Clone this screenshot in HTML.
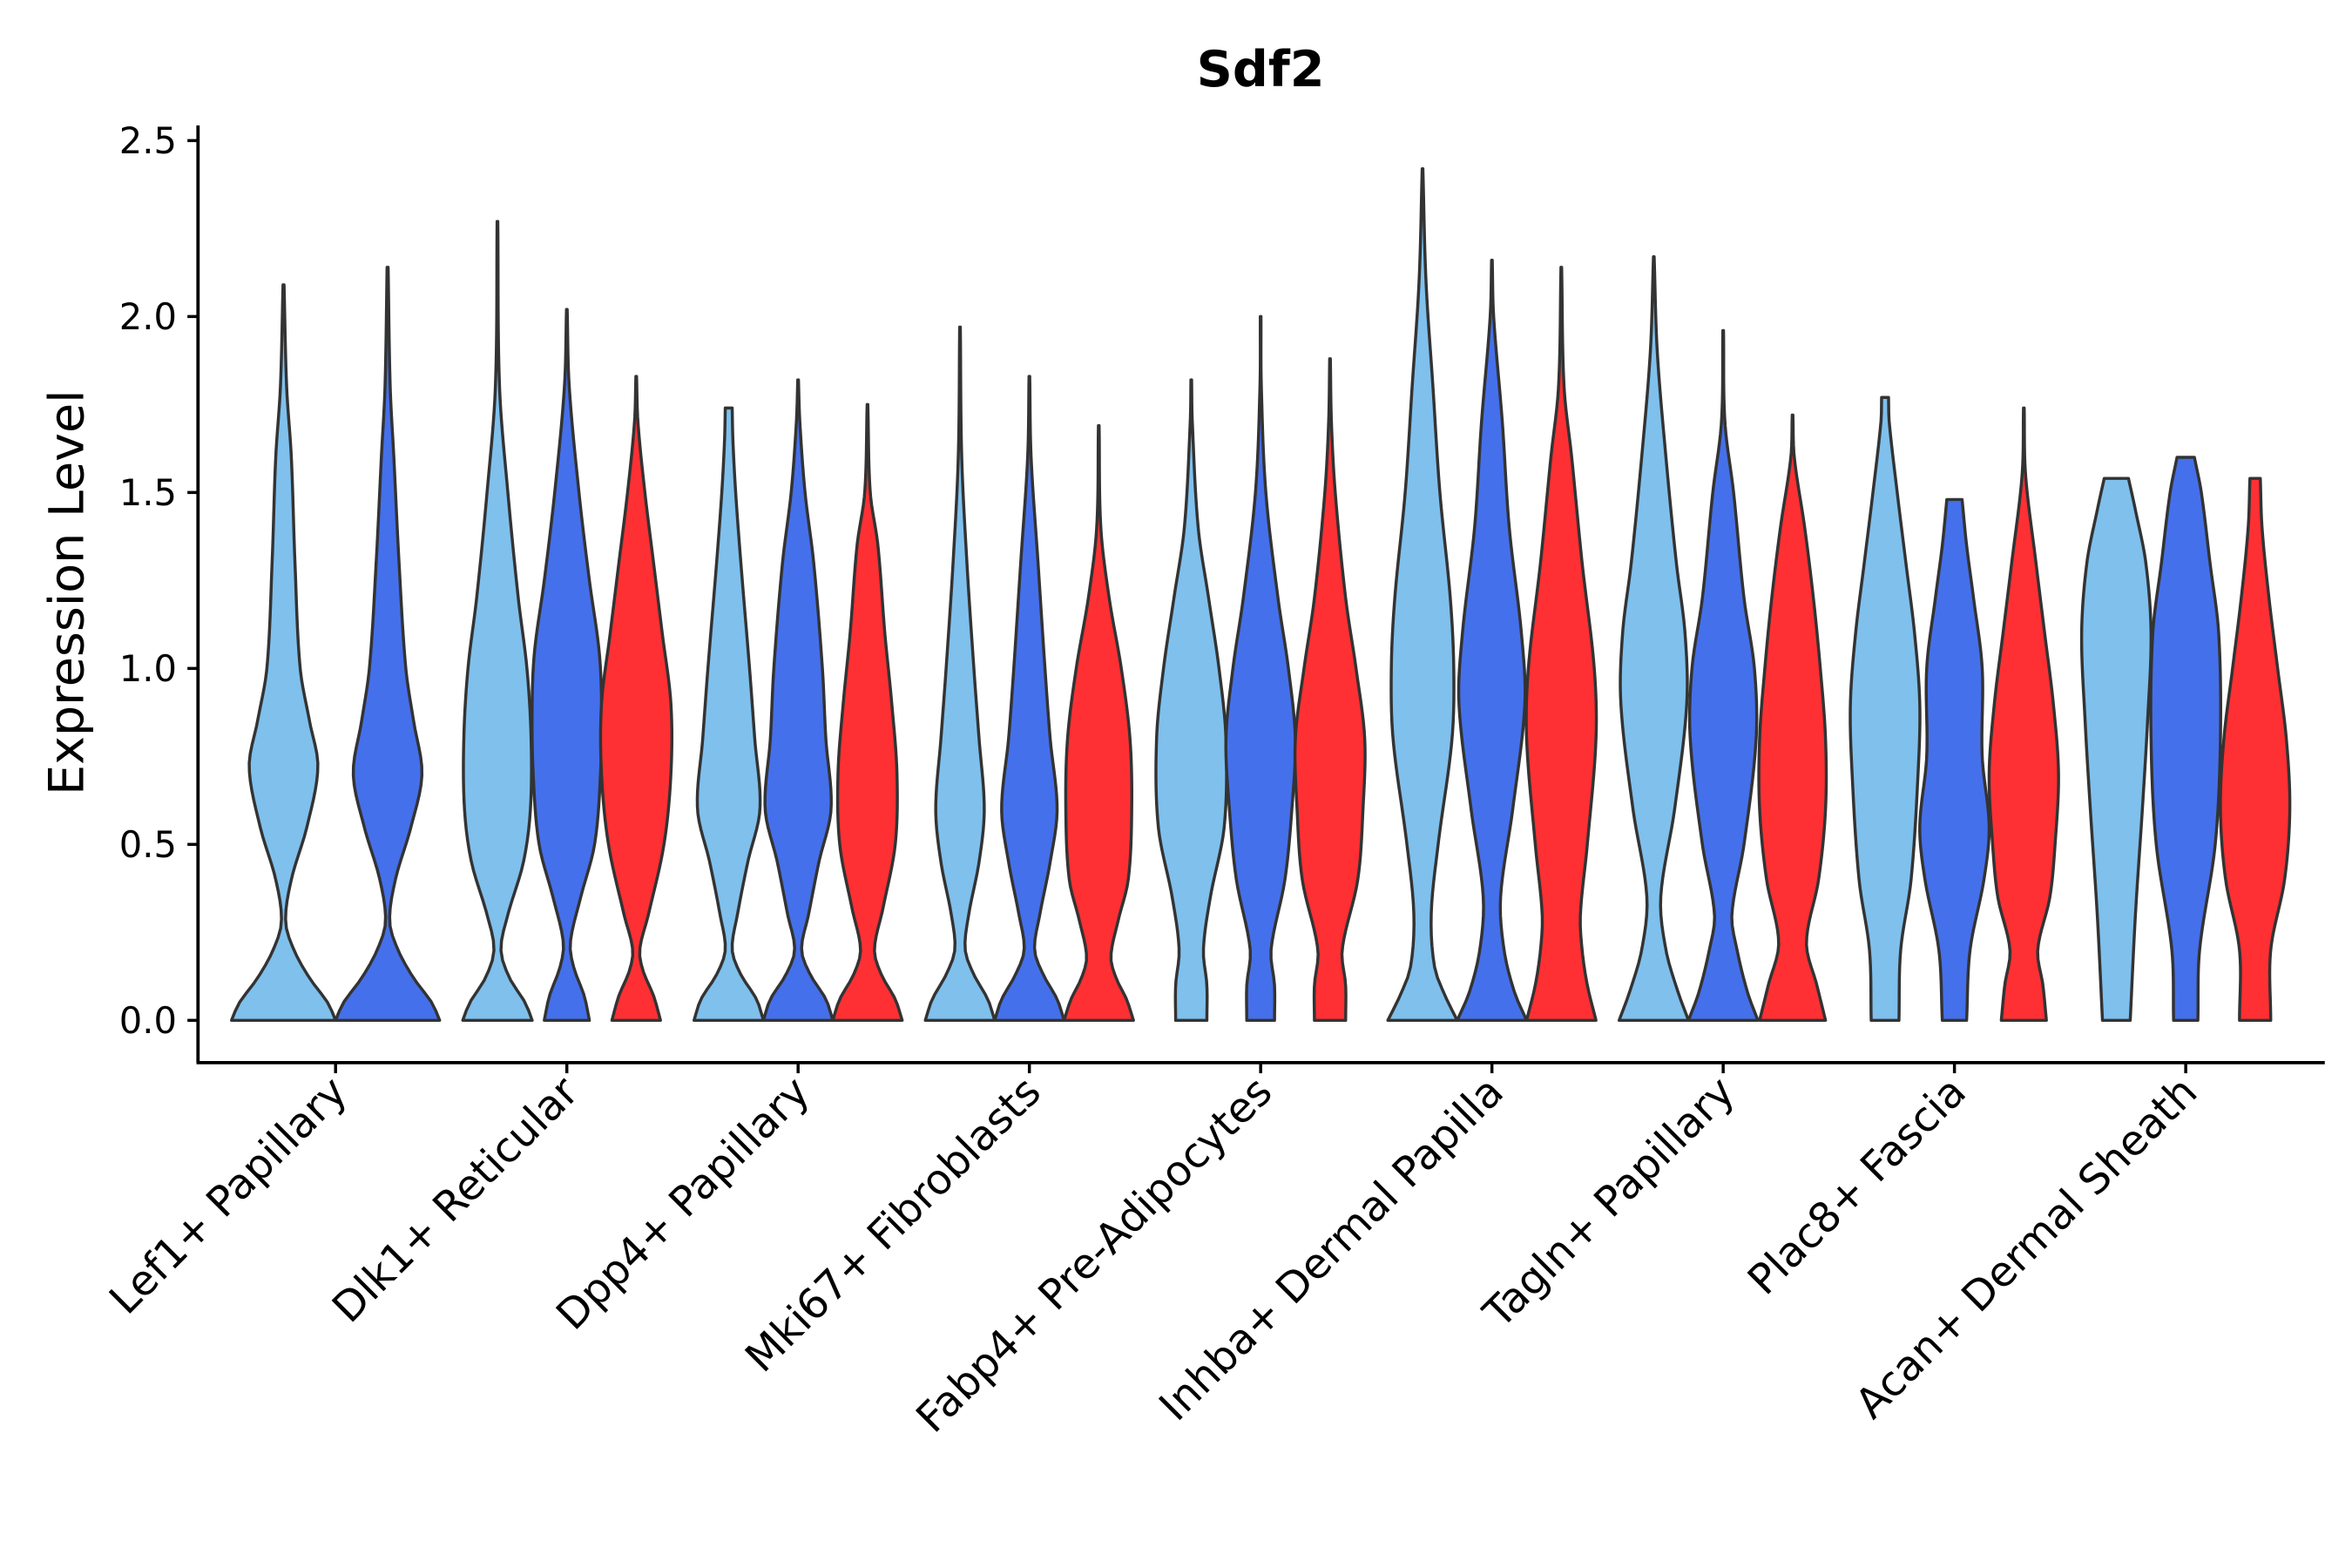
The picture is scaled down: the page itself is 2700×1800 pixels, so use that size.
<!DOCTYPE html>
<html><head><meta charset="utf-8"><style>
html,body{margin:0;padding:0;background:#fff;}
svg{display:block;font-family:"DejaVu Sans","Liberation Sans",sans-serif;}
</style></head><body>
<svg id="chart" width="2700" height="1800" viewBox="0 0 1556 1037.3" preserveAspectRatio="none" xmlns="http://www.w3.org/2000/svg">
<text x="834" y="57" text-anchor="middle" font-size="33" font-weight="bold" fill="#000">Sdf2</text>
<text transform="translate(55,392) rotate(-90)" text-anchor="middle" font-size="32" fill="#000">Expression Level</text>
<g id="plot"></g>
</svg>
<script>
const categories = ["Lef1+ Papillary","Dlk1+ Reticular","Dpp4+ Papillary","Mki67+ Fibroblasts","Fabp4+ Pre-Adipocytes","Inhba+ Dermal Papilla","Tagln+ Papillary","Plac8+ Fascia","Acan+ Dermal Sheath"];
const yTicks = [0, 0.5, 1.0, 1.5, 2.0, 2.5];
const yTickLabels = ["0.0","0.5","1.0","1.5","2.0","2.5"];
const seriesColors = ["#7fc0ed","#4570eb","#ff3033"];
// each violin: [value, relative half-width]
const lef1 = [
 [[0,1],[0.05,0.85],[0.12,0.5],[0.2,0.2],[0.28,0.04],[0.4,0.15],[0.55,0.45],[0.72,0.66],[0.85,0.5],[1.0,0.32],[1.3,0.22],[1.6,0.15],[1.8,0.06],[2.09,0.01]],
 [[0,1],[0.05,0.85],[0.12,0.5],[0.2,0.2],[0.28,0.04],[0.4,0.15],[0.55,0.45],[0.7,0.66],[0.85,0.5],[1.0,0.35],[1.3,0.22],[1.6,0.12],[1.8,0.05],[2.14,0.01]]
];
const dlk1 = [
 [[0,1],[0.05,0.8],[0.12,0.35],[0.2,0.1],[0.3,0.3],[0.45,0.75],[0.6,0.95],[0.8,0.97],[1.0,0.85],[1.2,0.6],[1.5,0.3],[1.8,0.06],[2.27,0.01]],
 [[0,0.65],[0.07,0.5],[0.15,0.2],[0.22,0.1],[0.35,0.4],[0.5,0.8],[0.7,0.97],[0.9,1.0],[1.05,0.93],[1.25,0.65],[1.5,0.35],[1.8,0.07],[2.02,0.01]],
 [[0,0.7],[0.07,0.5],[0.14,0.2],[0.2,0.1],[0.3,0.35],[0.5,0.8],[0.7,1.0],[0.9,1.0],[1.1,0.75],[1.3,0.5],[1.5,0.25],[1.7,0.05],[1.83,0.01]]
];
const dpp4 = [
 [[0,1],[0.06,0.8],[0.13,0.35],[0.2,0.1],[0.3,0.25],[0.45,0.55],[0.6,0.9],[0.8,0.75],[1.0,0.6],[1.3,0.35],[1.5,0.2],[1.65,0.12],[1.74,0.1]],
 [[0,1],[0.06,0.8],[0.13,0.35],[0.2,0.1],[0.3,0.3],[0.45,0.6],[0.6,0.95],[0.8,0.8],[1.0,0.7],[1.3,0.45],[1.5,0.2],[1.7,0.05],[1.82,0.01]],
 [[0,1],[0.06,0.8],[0.13,0.4],[0.2,0.2],[0.32,0.45],[0.5,0.8],[0.7,0.85],[0.9,0.7],[1.1,0.5],[1.35,0.3],[1.5,0.08],[1.75,0.01]]
];
const mki67 = [
 [[0,1],[0.06,0.8],[0.13,0.4],[0.2,0.15],[0.3,0.25],[0.45,0.55],[0.6,0.7],[0.8,0.55],[1.0,0.4],[1.3,0.2],[1.6,0.05],[1.97,0.01]],
 [[0,1],[0.06,0.8],[0.13,0.4],[0.2,0.15],[0.3,0.3],[0.45,0.6],[0.6,0.8],[0.8,0.6],[1.0,0.45],[1.3,0.25],[1.6,0.05],[1.83,0.01]],
 [[0,1],[0.06,0.8],[0.12,0.5],[0.18,0.35],[0.28,0.55],[0.4,0.85],[0.6,0.95],[0.8,0.9],[1.0,0.65],[1.2,0.3],[1.4,0.06],[1.69,0.01]]
];
const fabp4 = [
 [[0,0.45],[0.1,0.45],[0.2,0.35],[0.35,0.55],[0.55,0.95],[0.8,1.0],[1.0,0.8],[1.2,0.5],[1.4,0.2],[1.7,0.03],[1.82,0.01]],
 [[0,0.4],[0.1,0.4],[0.2,0.3],[0.4,0.7],[0.6,0.9],[0.8,1.0],[1.0,0.8],[1.2,0.5],[1.5,0.15],[1.8,0.02],[2.0,0.01]],
 [[0,0.45],[0.1,0.45],[0.2,0.35],[0.4,0.8],[0.6,0.95],[0.8,1.0],[1.0,0.75],[1.2,0.45],[1.5,0.15],[1.7,0.04],[1.88,0.01]]
];
const inhba = [
 [[0,1],[0.07,0.65],[0.15,0.35],[0.3,0.25],[0.5,0.45],[0.8,0.85],[1.0,0.9],[1.2,0.8],[1.5,0.5],[1.8,0.3],[2.1,0.1],[2.42,0.01]],
 [[0,1],[0.08,0.65],[0.2,0.35],[0.35,0.25],[0.6,0.6],[0.9,0.95],[1.1,0.85],[1.4,0.5],[1.7,0.3],[2.0,0.05],[2.16,0.01]],
 [[0,1],[0.1,0.75],[0.2,0.6],[0.3,0.55],[0.5,0.75],[0.8,1.0],[1.0,0.95],[1.3,0.6],[1.6,0.3],[1.8,0.08],[2.14,0.01]]
];
const tagln = [
 [[0,1],[0.08,0.7],[0.2,0.35],[0.35,0.2],[0.6,0.6],[0.9,0.95],[1.1,0.9],[1.3,0.65],[1.6,0.35],[1.9,0.1],[2.17,0.01]],
 [[0,1],[0.08,0.7],[0.2,0.4],[0.3,0.25],[0.5,0.6],[0.8,0.95],[1.0,0.9],[1.2,0.6],[1.5,0.3],[1.7,0.05],[1.96,0.01]],
 [[0,0.95],[0.1,0.7],[0.22,0.4],[0.4,0.75],[0.6,0.95],[0.8,0.95],[1.0,0.8],[1.2,0.6],[1.4,0.35],[1.6,0.05],[1.72,0.01]]
];
const plac8 = [
 [[0,0.4],[0.2,0.45],[0.4,0.75],[0.7,0.95],[0.9,1.0],[1.1,0.85],[1.3,0.6],[1.5,0.35],[1.7,0.12],[1.77,0.1]],
 [[0,0.35],[0.2,0.45],[0.4,0.85],[0.55,1.0],[0.75,0.8],[1.0,0.8],[1.2,0.55],[1.35,0.35],[1.48,0.22]],
 [[0,0.65],[0.1,0.55],[0.2,0.4],[0.35,0.75],[0.5,0.9],[0.7,1.0],[0.9,0.85],[1.1,0.6],[1.3,0.35],[1.55,0.05],[1.74,0.01]]
];
const acan = [
 [[0,0.4],[0.3,0.55],[0.6,0.75],[0.85,0.9],[1.1,1.0],[1.3,0.85],[1.45,0.55],[1.54,0.35]],
 [[0,0.35],[0.2,0.4],[0.5,0.85],[0.8,1.0],[1.1,0.95],[1.3,0.7],[1.5,0.45],[1.6,0.25]],
 [[0,0.45],[0.2,0.45],[0.4,0.85],[0.6,1.0],[0.8,0.9],[1.0,0.65],[1.2,0.4],[1.4,0.2],[1.54,0.15]]
];
const violinData = [lef1, dlk1, dpp4, mki67, fabp4, inhba, tagln, plac8, acan];

const NS = "http://www.w3.org/2000/svg";
const plot = document.getElementById("plot");
const X0 = 131, X1 = 1538, Y0 = 83, Y1 = 703;
const firstX = 222, bandW = 153;
function yScale(v){ return 675 - v * 232.8; }
function xScale(i){ return firstX + i * bandW; }

function interp(pts, v){
  let k = 0;
  while (k < pts.length - 2 && v > pts[k+1][0]) k++;
  const p0 = pts[Math.max(k-1,0)], p1 = pts[k], p2 = pts[k+1], p3 = pts[Math.min(k+2, pts.length-1)];
  const h = p2[0] - p1[0];
  const t = h > 0 ? (v - p1[0]) / h : 0;
  const m1 = (p2[1] - p0[1]) / ((p2[0] - p0[0]) || 1) * h;
  const m2 = (p3[1] - p1[1]) / ((p3[0] - p1[0]) || 1) * h;
  const t2 = t*t, t3 = t2*t;
  const w = (2*t3-3*t2+1)*p1[1] + (t3-2*t2+t)*m1 + (-2*t3+3*t2)*p2[1] + (t3-t2)*m2;
  return Math.max(w, 0.005);
}

function make(tag, attrs){ const el = document.createElementNS(NS, tag); for (const k in attrs) el.setAttribute(k, attrs[k]); return el; }

violinData.forEach((group, gi) => {
  const n = group.length;
  const sub = 0.9 / n * bandW;
  const maxHalf = sub / 2;
  group.forEach((pts, si) => {
    const cx = xScale(gi) + (si - (n - 1) / 2) * sub;
    const vmax = pts[pts.length - 1][0];
    const N = 80;
    const left = [], right = [];
    for (let j = 0; j <= N; j++) {
      const v = vmax * j / N;
      const w = interp(pts, v) * maxHalf;
      const y = yScale(v);
      left.push([cx - w, y]); right.push([cx + w, y]);
    }
    let d = "M" + left.map(p => p[0].toFixed(2) + "," + p[1].toFixed(2)).join("L");
    d += "L" + right.reverse().map(p => p[0].toFixed(2) + "," + p[1].toFixed(2)).join("L") + "Z";
    const path = make("path", {d: d, fill: seriesColors[si], stroke: "#333", "stroke-width": 2, "stroke-linejoin": "round"});
    
    
    plot.appendChild(path);
  });
});

const yAxis = make("line", {x1: X0, y1: Y0, x2: X0, y2: Y1, stroke: "#000", "stroke-width": 2.2});


plot.appendChild(yAxis);
const xAxis = make("line", {x1: X0 - 1, y1: Y1, x2: X1, y2: Y1, stroke: "#000", "stroke-width": 2.2});


plot.appendChild(xAxis);

yTicks.forEach((v, i) => {
  const y = yScale(v);
  const t = make("line", {x1: X0 - 7, y1: y, x2: X0, y2: y, stroke: "#000", "stroke-width": 2});
  
  
  plot.appendChild(t);
  const lab = make("text", {x: X0 - 14, y: y + 8.5, "text-anchor": "end", "font-size": 24, fill: "#000"});
  lab.textContent = yTickLabels[i];
  
  
  plot.appendChild(lab);
});

categories.forEach((c, i) => {
  const x = xScale(i);
  const t = make("line", {x1: x, y1: Y1, x2: x, y2: Y1 + 7, stroke: "#000", "stroke-width": 2});
  
  
  plot.appendChild(t);
  const lab = make("text", {transform: "translate(" + (x + 9) + "," + (Y1 + 21) + ") rotate(-45)", "text-anchor": "end", "font-size": 27.5, fill: "#000"});
  lab.textContent = c;
  
  
  plot.appendChild(lab);
});
</script>
</body></html>
